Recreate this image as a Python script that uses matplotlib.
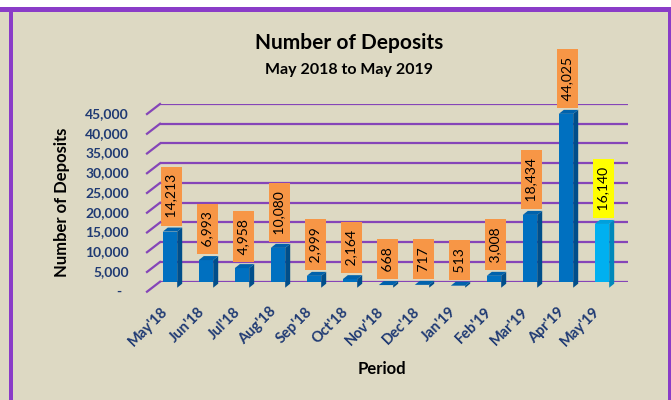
import matplotlib
matplotlib.use("Agg")
import matplotlib.pyplot as plt
from matplotlib.patches import Polygon, Rectangle
from matplotlib.transforms import ScaledTranslation, IdentityTransform
from matplotlib.lines import Line2D

# ---- data ----
periods = ["May'18", "Jun'18", "Jul'18", "Aug'18", "Sep'18", "Oct'18", "Nov'18",
           "Dec'18", "Jan'19", "Feb'19", "Mar'19", "Apr'19", "May'19"]
deposits = [14213, 6993, 4958, 10080, 2999, 2164, 668, 717, 513, 3008, 18434, 44025, 16140]
ytick_vals = [0, 5000, 10000, 15000, 20000, 25000, 30000, 35000, 40000, 45000]
ytick_labels = ["-  "] + [f"{v:,}" for v in ytick_vals[1:]]
title = "Number of Deposits"
subtitle = "May 2018 to May 2019"
ylabel = "Number of Deposits"
xlabel = "Period"

# ---- style ----
BG = "#DDD9C3"
PURPLE = "#8A3CC8"
GRID = "#8545B8"
NAVY = "#1F3A73"
FONT = "Lato"
W, H, DPI = 671, 400, 100

fig = plt.figure(figsize=(W / DPI, H / DPI), dpi=DPI, facecolor=BG)

# frame decorations (figure fractions)
fig.add_artist(Rectangle((0, 1 - 7 / H), 1, 7 / H, transform=fig.transFigure,
                         facecolor="white", edgecolor="none", zorder=0))
fig.add_artist(Rectangle((0, 1 - 12 / H), 1, 5 / H, transform=fig.transFigure,
                         facecolor=PURPLE, edgecolor="none", zorder=0))
fig.add_artist(Rectangle((9 / W, 0), 4 / W, 1 - 12 / H, transform=fig.transFigure,
                         facecolor=PURPLE, edgecolor="none", zorder=0))
fig.add_artist(Rectangle((668 / W, 0), 3 / W, 1 - 12 / H, transform=fig.transFigure,
                         facecolor=PURPLE, edgecolor="none", zorder=0))

# back wall axes
left_px, right_px, zero_px, top_px = 160, 628, 281.7, 104
ax = fig.add_axes([left_px / W, (H - zero_px) / H, (right_px - left_px) / W,
                   (zero_px - top_px) / H])
ax.set_facecolor("none")
for s in ax.spines.values():
    s.set_visible(False)
n = len(periods)
ax.set_xlim(-0.5, n - 0.5)
ax.set_ylim(0, 45000)
ax.set_yticks(ytick_vals)
ax.set_yticklabels(ytick_labels)
ax.yaxis.grid(True, color=GRID, lw=1.6, zorder=0)
ax.set_axisbelow(True)
ax.tick_params(axis="y", length=0, pad=31 * 0.72, labelsize=10, labelcolor=NAVY)
for lab in ax.get_yticklabels():
    lab.set_fontfamily(FONT)
    lab.set_fontweight("bold")
    lab.set_transform(lab.get_transform() + ScaledTranslation(0, -9 / DPI, fig.dpi_scale_trans))

ax.set_xticks(range(n))
ax.set_xticklabels(periods)
ax.tick_params(axis="x", length=0, pad=0, labelsize=10.5, labelcolor=NAVY)
for lab in ax.get_xticklabels():
    lab.set_fontfamily(FONT)
    lab.set_fontweight("bold")
    lab.set_rotation(45)
    lab.set_ha("right")
    lab.set_va("center")
    lab.set_rotation_mode("anchor")
    lab.set_transform(lab.get_transform() + ScaledTranslation(-12 / DPI, -28 / DPI, fig.dpi_scale_trans))

# diagonal gridline stubs (wall-to-floor)
for v in ytick_vals:
    x0, y0 = ax.transData.transform((-0.5, v))
    fig.add_artist(Line2D([x0, x0 - 13], [y0, y0 - 10], transform=IdentityTransform(),
                          color=GRID, lw=1.6, zorder=1))

# bars with pseudo 3D
bw = 0.4
fdx, fdy = -8, -6        # front face offset (px, display)
sdx, sdy = 5, 4          # depth
front_off = ScaledTranslation(fdx / DPI, fdy / DPI, fig.dpi_scale_trans)
for i, v in enumerate(deposits):
    last = i == n - 1
    c_front = "#00B0F0" if last else "#0070C0"
    c_side = "#0088BA" if last else "#004E8A"
    c_top = "#00A0DC" if last else "#0062AC"
    ax.bar(i, v, width=bw, color=c_front, transform=ax.transData + front_off, zorder=3)
    xl, yb = ax.transData.transform((i - bw / 2, 0))
    xr, yt = ax.transData.transform((i + bw / 2, v))
    xl += fdx; xr += fdx; yb += fdy; yt += fdy
    side = Polygon([(xr, yb), (xr, yt), (xr + sdx, yt + sdy), (xr + sdx, yb + sdy)],
                   closed=True, transform=IdentityTransform(), facecolor=c_side,
                   edgecolor="none", zorder=3)
    top = Polygon([(xl, yt), (xr, yt), (xr + sdx, yt + sdy), (xl + sdx, yt + sdy)],
                  closed=True, transform=IdentityTransform(), facecolor=c_top,
                  edgecolor="none", zorder=3)
    fig.add_artist(side)
    fig.add_artist(top)
    # data label
    pad_pt = 3.0
    lab_off = ScaledTranslation(-6.5 / DPI, (pad_pt / 72) + 0 / DPI, fig.dpi_scale_trans)
    ax.text(i, v, " " + f"{v:,}" + " ", rotation=90, ha="center", va="bottom",
            fontsize=10, fontfamily=FONT, color="black",
            transform=ax.transData + lab_off, zorder=5,
            bbox=dict(boxstyle=f"square,pad={pad_pt / 10:.2f}",
                      facecolor="#FFFF00" if last else "#F79646", edgecolor="none"))

# titles
fig.text(349 / W, 1 - 49 / H, title, ha="center", va="baseline", fontsize=15,
         fontweight="bold", fontfamily=FONT, color="black")
fig.text(349 / W, 1 - 74 / H, subtitle, ha="center", va="baseline", fontsize=11.5,
         fontweight="bold", fontfamily=FONT, color="black")
fig.text(62 / W, 1 - 202 / H, ylabel, ha="center", va="center", rotation=90,
         fontsize=12, fontweight="bold", fontfamily=FONT, color="black")
fig.text(382 / W, 1 - 369 / H, xlabel, ha="center", va="center",
         fontsize=12, fontweight="bold", fontfamily=FONT, color="black")

fig.savefig("out.png", dpi=DPI, facecolor=BG)
